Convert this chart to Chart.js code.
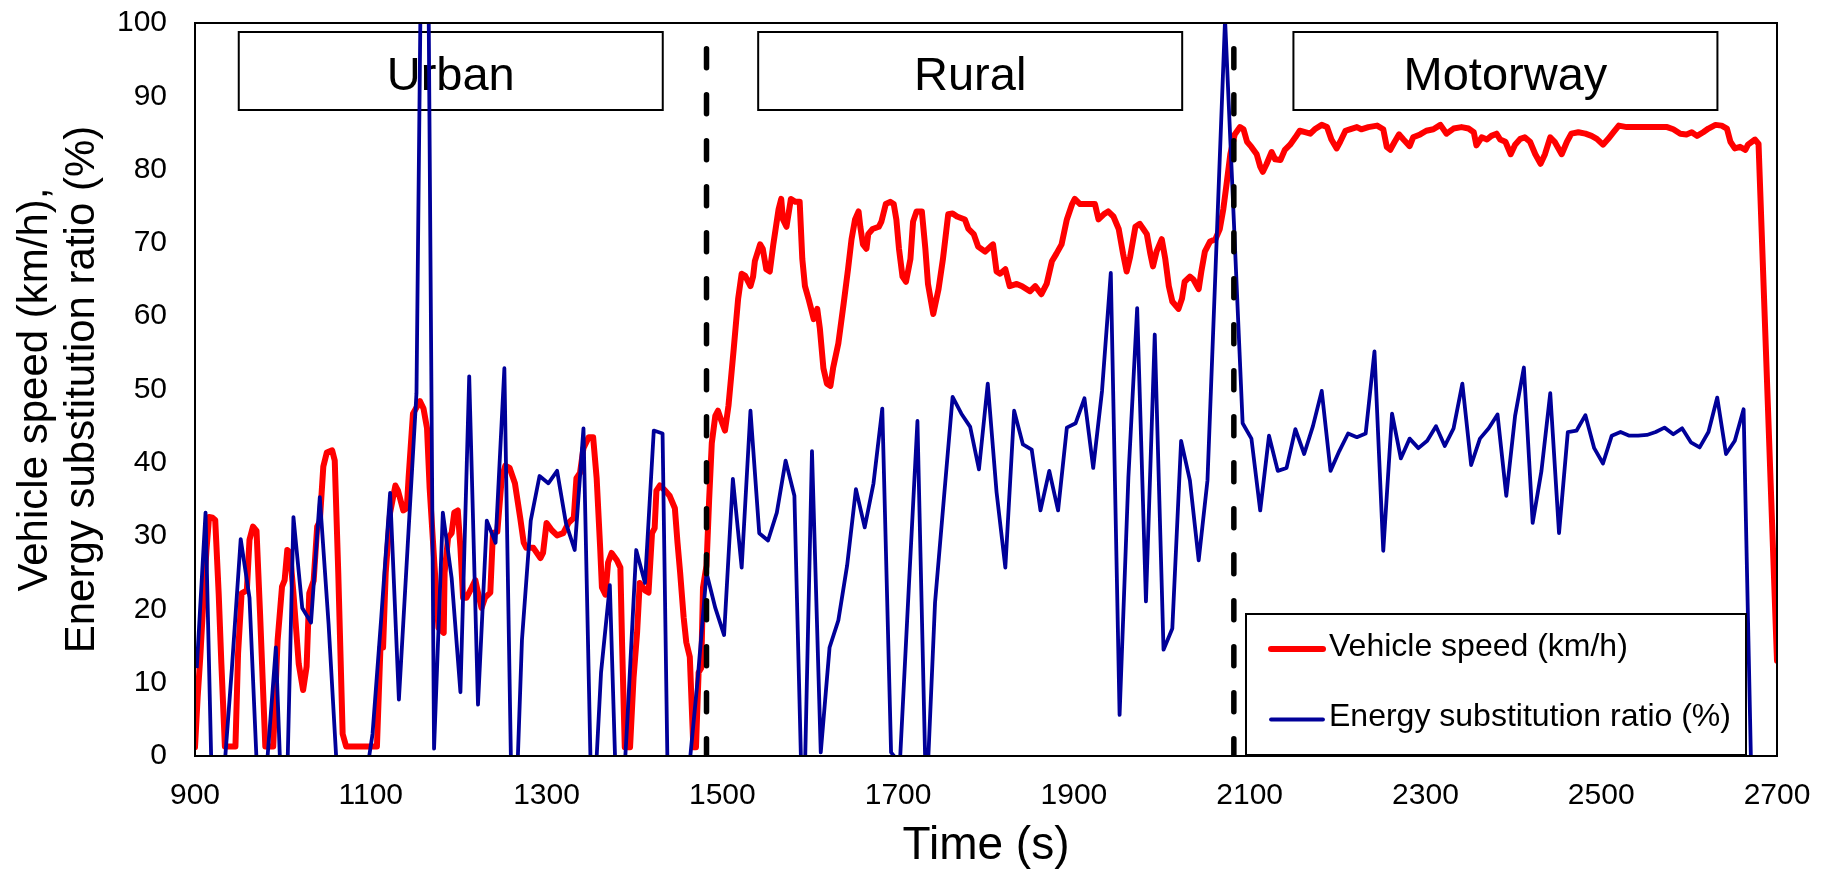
<!DOCTYPE html>
<html>
<head>
<meta charset="utf-8">
<title>Vehicle speed and energy substitution ratio</title>
<script src="https://cdn.jsdelivr.net/npm/chart.js@4.4.1/dist/chart.umd.min.js"></script>
<style>
  html, body { margin: 0; padding: 0; background: #fff; }
  #wrap { width: 1827px; height: 873px; }
</style>
</head>
<body>
<div id="wrap"><canvas id="myChart"></canvas></div>
<script>
// vehicle speed trace (s, km/h)
const speedTime = [
  900, 903, 906, 910, 913, 916, 920, 923, 927, 930, 934, 946, 949, 953, 959, 962, 966, 970, 974, 980,
  989, 994, 999, 1002, 1005, 1008, 1012, 1018, 1023, 1027, 1030, 1035, 1039, 1042, 1046, 1050, 1056, 1059, 1063, 1068,
  1072, 1107, 1111, 1114, 1117, 1122, 1128, 1131, 1137, 1141, 1143, 1148, 1156, 1160, 1164, 1167, 1173, 1177, 1183, 1184,
  1188, 1192, 1195, 1199, 1202, 1205, 1209, 1215, 1219, 1222, 1226, 1230, 1236, 1239, 1244, 1249, 1253, 1258, 1264, 1270,
  1274, 1277, 1285, 1293, 1296, 1300, 1306, 1312, 1319, 1325, 1331, 1334, 1338, 1342, 1348, 1353, 1357, 1361, 1363, 1367,
  1370, 1374, 1380, 1384, 1386, 1389, 1395, 1399, 1403, 1406, 1412, 1416, 1420, 1423, 1425, 1429, 1435, 1440, 1446, 1449,
  1452, 1456, 1459, 1463, 1467, 1470, 1473, 1476, 1478, 1482, 1485, 1488, 1492, 1495, 1499, 1503, 1507, 1513, 1518, 1522,
  1526, 1532, 1535, 1537, 1543, 1546, 1550, 1554, 1558, 1564, 1567, 1569, 1573, 1578, 1583, 1588, 1591, 1594, 1598, 1601,
  1604, 1608, 1611, 1615, 1619, 1623, 1626, 1632, 1638, 1643, 1647, 1651, 1655, 1657, 1660, 1664, 1666, 1671, 1678, 1681,
  1686, 1691, 1695, 1698, 1701, 1705, 1709, 1714, 1717, 1721, 1727, 1731, 1734, 1740, 1746, 1751, 1757, 1762, 1767, 1776,
  1780, 1786, 1791, 1799, 1805, 1808, 1812, 1816, 1822, 1827, 1835, 1841, 1850, 1856, 1863, 1869, 1875, 1880, 1886, 1892,
  1898, 1901, 1907, 1915, 1924, 1928, 1934, 1939, 1945, 1951, 1956, 1960, 1964, 1970, 1975, 1979, 1983, 1987, 1990, 1994,
  2000, 2004, 2008, 2012, 2019, 2023, 2026, 2032, 2036, 2042, 2045, 2049, 2055, 2061, 2066, 2070, 2074, 2078, 2083, 2089,
  2093, 2097, 2102, 2108, 2112, 2115, 2119, 2125, 2129, 2135, 2140, 2146, 2152, 2157, 2163, 2169, 2174, 2182, 2188, 2193,
  2199, 2203, 2209, 2214, 2222, 2227, 2235, 2245, 2252, 2256, 2260, 2265, 2270, 2275, 2282, 2286, 2294, 2301, 2309, 2317,
  2324, 2332, 2341, 2349, 2355, 2358, 2364, 2370, 2375, 2381, 2385, 2391, 2397, 2402, 2408, 2413, 2419, 2425, 2431, 2436,
  2442, 2447, 2455, 2461, 2466, 2474, 2482, 2489, 2495, 2502, 2508, 2514, 2520, 2529, 2540, 2552, 2563, 2575, 2582, 2590,
  2597, 2603, 2609, 2616, 2622, 2630, 2637, 2643, 2647, 2652, 2658, 2664, 2667, 2675, 2679, 2700
];
const speedKmh = [
  1.2, 8, 13.5, 22.2, 28, 32.6, 32.5, 32.2, 22, 12.6, 1.3, 1.3, 14, 22.2, 22.6, 29.5, 31.3, 30.7, 19.5, 1.3,
  1.3, 15.8, 23.1, 24, 28.1, 27.8, 22.2, 12.6, 9, 12.2, 22.2, 23.9, 31.3, 32, 39.5, 41.4, 41.7, 40.3, 25, 3,
  1.3, 1.3, 14.8, 14.8, 25, 33.2, 36.9, 36.2, 33.5, 33.8, 37.9, 46.7, 48.4, 47.4, 44.7, 36.5, 25, 17.5, 16.8, 25,
  29.8, 30.4, 33.2, 33.5, 28.4, 21.6, 21.6, 23, 24, 22.3, 20.2, 21.6, 22.3, 30.4, 30.6, 37.9, 39.6, 39.3, 37.2, 32.5,
  29.1, 28.4, 28.4, 27, 27.7, 31.8, 30.8, 30.1, 30.4, 31.8, 32.5, 37.9, 38.6, 42, 43.5, 43.5, 37.9, 28.4, 23, 22,
  26.4, 27.7, 26.7, 25.7, 15, 1.2, 1.2, 10.7, 16.8, 23.6, 22.6, 22.3, 30.4, 31.1, 36.2, 36.9, 36.2, 35.5, 33.8, 29.1,
  25, 18.9, 15.5, 13.5, 1.2, 1.2, 11.4, 12, 23, 26, 35, 42.7, 46.4, 47.1, 45.7, 44.4, 47.8, 55.6, 62.4, 65.8,
  65.5, 64.1, 65.4, 67.5, 69.8, 69.2, 66.4, 66.1, 69.8, 74.6, 76, 73.2, 72.2, 76, 75.6, 75.6, 67.8, 64.1, 62.4, 61,
  59.6, 61, 58.3, 52.9, 50.8, 50.5, 52.9, 56.3, 61.7, 66.4, 70.5, 73.2, 74.3, 72.2, 69.8, 69.2, 71.2, 71.9, 72.2, 72.9,
  75.3, 75.6, 75.3, 73.2, 69.2, 65.4, 64.7, 67.8, 72.9, 74.3, 74.3, 69.2, 64.4, 60.3, 63.7, 67.8, 73.9, 74, 73.6, 73.2,
  71.9, 71.2, 69.5, 68.8, 69.5, 69.8, 66.1, 65.8, 66.4, 64.1, 64.4, 64.1, 63.4, 64.1, 63, 64.4, 67.5, 68.5, 69.8, 73.2,
  75.3, 76, 75.3, 75.3, 75.3, 73.2, 73.9, 74.3, 73.6, 71.9, 68.5, 66.1, 68.1, 72.2, 72.6, 71.9, 71.2, 68.5, 66.8, 68.8,
  70.5, 67.8, 64.1, 62, 61, 62.4, 64.7, 65.4, 65, 63.7, 66.1, 68.8, 70.2, 70.5, 71.9, 74.6, 78.3, 82.1, 84.8, 85.8,
  85.5, 83.8, 83.1, 82.1, 80.4, 79.7, 80.7, 82.4, 81.4, 81.3, 82.7, 83.4, 84.4, 85.3, 85.1, 84.9, 85.5, 86.1, 85.8, 84.1,
  82.9, 83.8, 85.3, 85.5, 85.8, 85.5, 85.8, 86, 85.5, 83.1, 82.7, 83.8, 84.8, 84.1, 83.2, 84.4, 84.8, 85.3, 85.5, 86.1,
  84.9, 85.6, 85.8, 85.6, 85.1, 83.3, 84.4, 84.1, 84.6, 84.9, 84.1, 83.8, 82.1, 83.4, 84.2, 84.4, 83.8, 82.1, 80.8, 82.1,
  84.4, 83.8, 82.1, 83.8, 84.9, 85.1, 84.9, 84.6, 84.2, 83.4, 84.2, 85.1, 86, 85.8, 85.8, 85.8, 85.8, 85.8, 85.5, 84.9,
  84.8, 85.1, 84.6, 85.1, 85.6, 86.1, 86, 85.6, 83.8, 82.9, 83.1, 82.7, 83.4, 84.1, 83.5, 13
];

// energy substitution ratio (%), logged every 10 s from 902 s
const esrRatio = [
  12, 33.2, -19, -4, 12, 29.6, 21.6, -6, -1, 14.8, -18, 32.6, 20.2, 18.2, 35.3, 18, -3, -20, -20, -5,
  3, 19, 35.9, 7.7, 28.7, 49.5, 165, 1, 33.2, 24.3, 8.7, 51.8, 7, 32.1, 29.1, 52.9, -18.5, 15.8, 32.1, 38.2,
  37.2, 38.9, 31.8, 28.1, 44.7, -11.7, 11.4, 23.3, -16.2, 5, 28.1, 23.6, 44.4, 44, -37, -30, -2, 10.5, 25, 20.2,
  16.5, 37.8, 25.7, 47.1, 30.4, 29.4, 33.2, 40.3, 35.5, -12.7, 41.6, 0.5, 14.8, 18.5, 26, 36.4, 31.2, 37.2, 47.4, 0.5,
  -1, 22.6, 45.7, -6.8, 20.9, 35, 49, 46.7, 44.9, 39.1, 50.8, 36, 25.7, 47.1, 42.5, 41.8, 33.5, 38.9, 33.5, 44.8,
  45.4, 48.8, 39.3, 49.8, 65.9, 5.6, 38, 61.1, 21.1, 57.5, 14.5, 17.4, 43, 37.6, 26.7, 37.6, 69, 100.5, 73, 45.4,
  43.3, 33.5, 43.7, 38.9, 39.3, 44.6, 41.2, 45, 49.8, 38.9, 41.6, 44, 43.5, 44, 55.2, 28, 46.7, 40.6, 43.3, 42,
  43, 45, 42.3, 44.7, 50.8, 39.7, 43.3, 44.7, 46.6, 35.5, 46.4, 53, 31.8, 38.9, 49.5, 30.4, 44.2, 44.4, 46.5, 42,
  39.9, 43.7, 44.2, 43.7, 43.7, 43.8, 44.2, 44.8, 43.9, 44.7, 42.8, 42.1, 44.2, 48.9, 41.2, 43, 47.3, -10
];
const esrTime = esrRatio.map((_, i) => 902 + i * 10);

// test phases and the boundaries between them (s)
const phaseNames = ['Urban', 'Rural', 'Motorway'];
const phaseBounds = [900, 1482, 2082, 2700];
const dividerTop = 96.5;

const FONT = '"Liberation Sans", Arial, sans-serif';
Chart.defaults.font.family = FONT;
Chart.defaults.color = '#000';

const toPoints = (xs, ys) => xs.map((t, i) => ({ x: t, y: ys[i] }));

const dividers = phaseBounds.slice(1, -1).map(t => ({
  label: 'divider',
  data: [{ x: t, y: dividerTop }, { x: t, y: 0 }],
  borderColor: '#000',
  borderWidth: 5.5,
  borderDash: [19, 27],
  borderCapStyle: 'round',
  pointRadius: 0,
  order: 0
}));

// white boxes with the phase names, under the traces
const phaseBoxes = {
  id: 'phaseBoxes',
  beforeDatasetsDraw(chart) {
    const { ctx, chartArea, scales: { x } } = chart;
    ctx.save();
    ctx.font = '47px ' + FONT;
    ctx.textAlign = 'center';
    ctx.textBaseline = 'alphabetic';
    ctx.lineWidth = 2;
    phaseNames.forEach((name, i) => {
      const mid = x.getPixelForValue((phaseBounds[i] + phaseBounds[i + 1]) / 2);
      const left = mid - 212, top = chartArea.top + 9;
      ctx.fillStyle = '#fff';
      ctx.fillRect(left, top, 424, 78);
      ctx.strokeStyle = '#000';
      ctx.strokeRect(left, top, 424, 78);
      ctx.fillStyle = '#000';
      ctx.fillText(name, mid, top + 58);
    });
    ctx.restore();
  }
};

// plot frame and the boxed key in the lower right corner
const frameAndKey = {
  id: 'frameAndKey',
  afterDatasetsDraw(chart) {
    const { ctx, chartArea: a } = chart;
    ctx.save();
    ctx.strokeStyle = '#000';
    ctx.lineWidth = 2;
    ctx.strokeRect(a.left, a.top, a.right - a.left, a.bottom - a.top);

    const w = 500, h = 141;
    const bx = a.right - 31 - w, by = a.bottom - 1 - h;
    ctx.fillStyle = '#fff';
    ctx.fillRect(bx, by, w, h);
    ctx.strokeRect(bx, by, w, h);

    ctx.font = '32px ' + FONT;
    ctx.textAlign = 'left';
    ctx.textBaseline = 'middle';
    chart.data.datasets.slice(0, 2).forEach((ds, i) => {
      const y = by + 35 + i * 70.5;
      ctx.strokeStyle = ds.borderColor;
      ctx.lineWidth = ds.borderWidth;
      ctx.lineCap = 'round';
      ctx.beginPath();
      ctx.moveTo(bx + 25, y);
      ctx.lineTo(bx + 77, y);
      ctx.stroke();
      ctx.fillStyle = '#000';
      ctx.fillText(ds.label, bx + 83, y - 2);
    });
    ctx.restore();
  }
};

const ctx = document.getElementById('myChart').getContext('2d');
const myChart = new Chart(ctx, {
  type: 'line',
  data: {
    datasets: [{
      label: 'Vehicle speed (km/h)',
      data: toPoints(speedTime, speedKmh),
      borderColor: '#ff0000',
      borderWidth: 6,
      borderJoinStyle: 'round',
      borderCapStyle: 'round',
      pointRadius: 0,
      tension: 0,
      order: 2
    }, {
      label: 'Energy substitution ratio (%)',
      data: toPoints(esrTime, esrRatio),
      borderColor: '#000099',
      borderWidth: 3.8,
      borderJoinStyle: 'round',
      pointRadius: 0,
      tension: 0,
      order: 1
    }, ...dividers]
  },
  options: {
    responsive: true,
    maintainAspectRatio: false,
    animation: false,
    events: [],
    layout: { padding: { left: 0, right: 50, top: 23, bottom: 0 } },
    plugins: {
      legend: { display: false },
      tooltip: { enabled: false }
    },
    scales: {
      x: {
        type: 'linear',
        min: 900,
        max: 2700,
        // tick marks hidden, tickLength only spaces the labels
        grid: { display: false, drawTicks: true, tickLength: 22 },
        border: { display: false },
        ticks: {
          stepSize: 200,
          autoSkip: false,
          maxRotation: 0,
          padding: 0,
          font: { size: 30 },
          callback: v => String(v)
        },
        title: {
          display: true,
          text: 'Time (s)',
          font: { size: 46, lineHeight: 1.15 },
          padding: { top: 0, bottom: 0 }
        },
        afterFit(scale) { scale.height = 117; }
      },
      y: {
        min: 0,
        max: 100,
        grid: { display: false, drawTicks: true, tickLength: 28 },
        border: { display: false },
        ticks: {
          stepSize: 10,
          padding: 0,
          font: { size: 30 },
          callback: v => String(v)
        },
        title: {
          display: true,
          text: ['Vehicle speed (km/h),', 'Energy substitution ratio (%)'],
          font: { size: 42, lineHeight: 1.14 },
          padding: { top: 11, bottom: 0 }
        },
        afterFit(scale) { scale.width = 195; }
      }
    }
  },
  plugins: [phaseBoxes, frameAndKey]
});
</script>
</body>
</html>
